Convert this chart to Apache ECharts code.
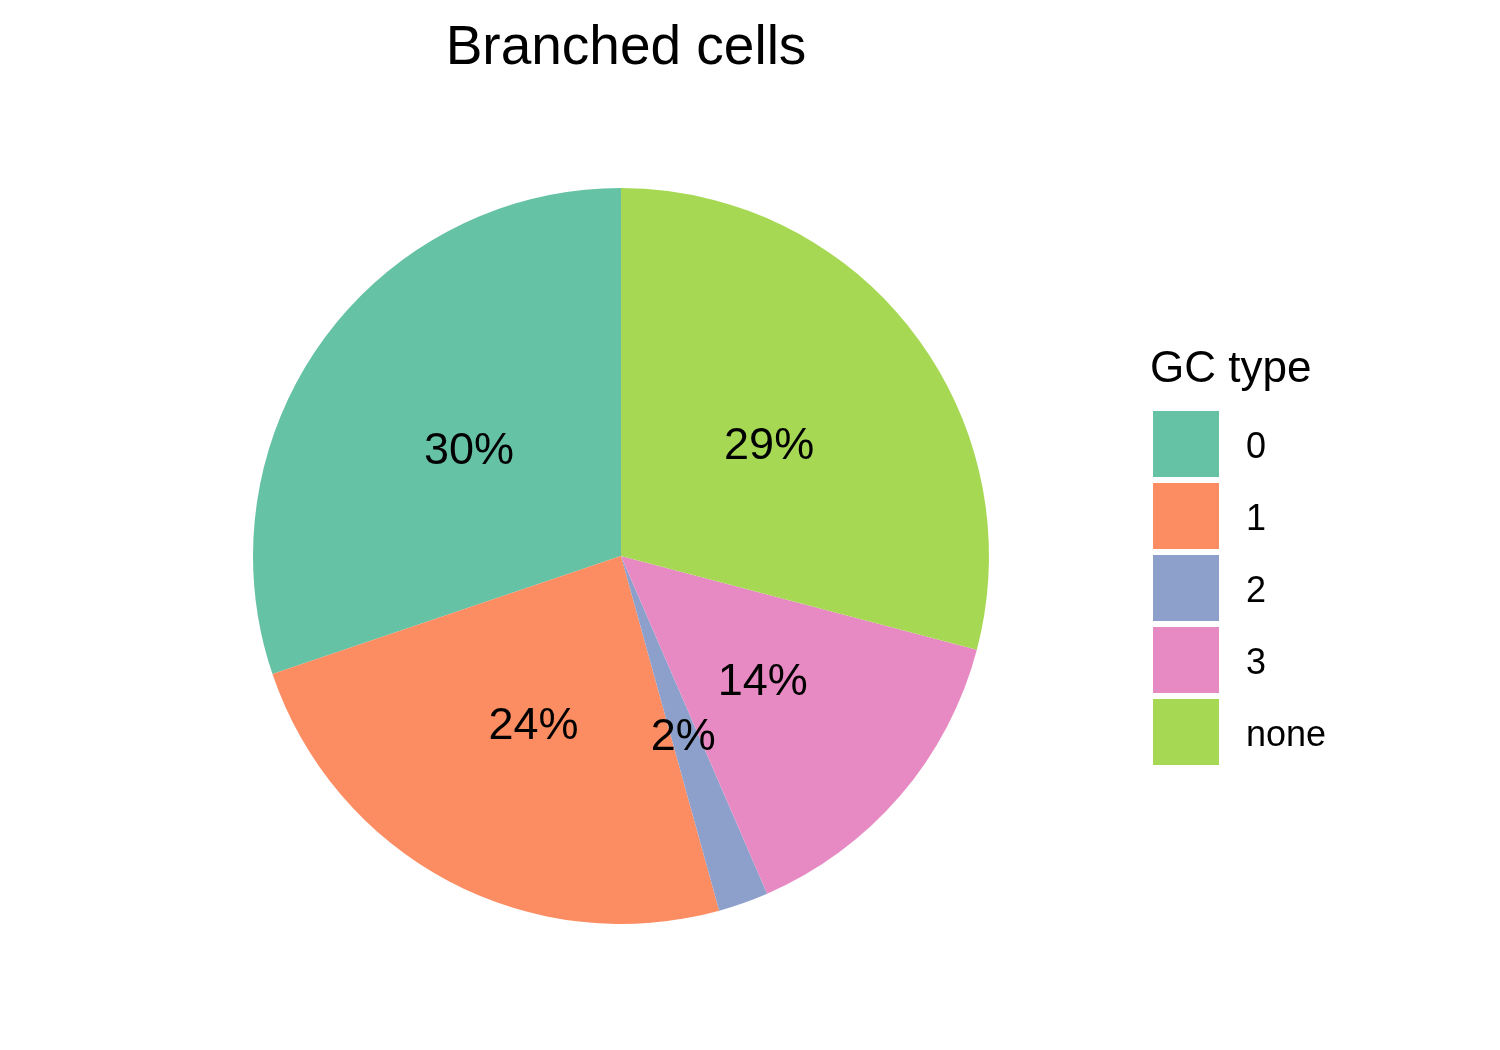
<!DOCTYPE html>
<html lang="en">
<head>
    <meta charset="UTF-8">
    <title>Branched cells</title>
    <style>
        html, body { margin: 0; padding: 0; background: #fff; }
        #main { width: 1500px; height: 1050px; }
    </style>
</head>
<body>
<div id="main"></div>
<script src="https://cdn.jsdelivr.net/npm/echarts@6/dist/echarts.min.js"></script>
<script>
    // GC type shares (percent of branched cells)
    var gcTypes = ['0', '1', '2', '3', 'none'];
    var gcShares = [30.2, 24.1, 2.2, 14.4, 29.1];
    var gcColors = ['#66C2A5', '#FC8D62', '#8DA0CB', '#E78AC3', '#A6D854'];

    var font = '"Liberation Sans", Arial, sans-serif';
    var chart = echarts.init(document.getElementById('main'));

    var pieData = [];
    for (var i = 0; i < gcTypes.length; i++) {
        pieData.push({name: gcTypes[i], value: gcShares[i], itemStyle: {color: gcColors[i]}});
    }

    chart.setOption({
        backgroundColor: '#ffffff',
        animation: false,
        title: [{
            text: 'Branched cells',
            left: 621,
            top: 16,
            textAlign: 'center',
            textStyle: {fontFamily: font, fontSize: 55, fontWeight: 'normal', color: '#000'}
        }, {
            text: 'GC type',
            left: 1150,
            top: 348,
            padding: 0,
            textStyle: {fontFamily: font, fontSize: 44, fontWeight: 'normal', color: '#000'}
        }],
        legend: {
            orient: 'vertical',
            left: 1153,
            top: 411,
            padding: 0,
            icon: 'rect',
            itemWidth: 66,
            itemHeight: 66,
            itemGap: 6,
            data: gcTypes,
            // empty spacer line pushes the label a few px down, as in the reference
            formatter: function (name) { return '{s|}\n{a|' + name + '}'; },
            textStyle: {
                fontFamily: font, fontSize: 36, color: '#000', padding: [0, 0, 0, 22],
                rich: {
                    s: {height: 8, lineHeight: 8, fontSize: 8},
                    a: {fontFamily: font, fontSize: 36, lineHeight: 40, color: '#000'}
                }
            }
        },
        series: [{
            type: 'pie',
            center: [621, 556],
            radius: [0, 368],
            startAngle: 90,
            clockwise: false,
            silent: true,
            itemStyle: {borderWidth: 0},
            label: {
                show: true,
                position: 'inside',
                offset: [0, 5],
                fontFamily: font,
                fontSize: 45,
                color: '#000',
                formatter: function (p) { return Math.round(p.percent) + '%'; }
            },
            labelLine: {show: false},
            data: pieData
        }]
    });
</script>
</body>
</html>
